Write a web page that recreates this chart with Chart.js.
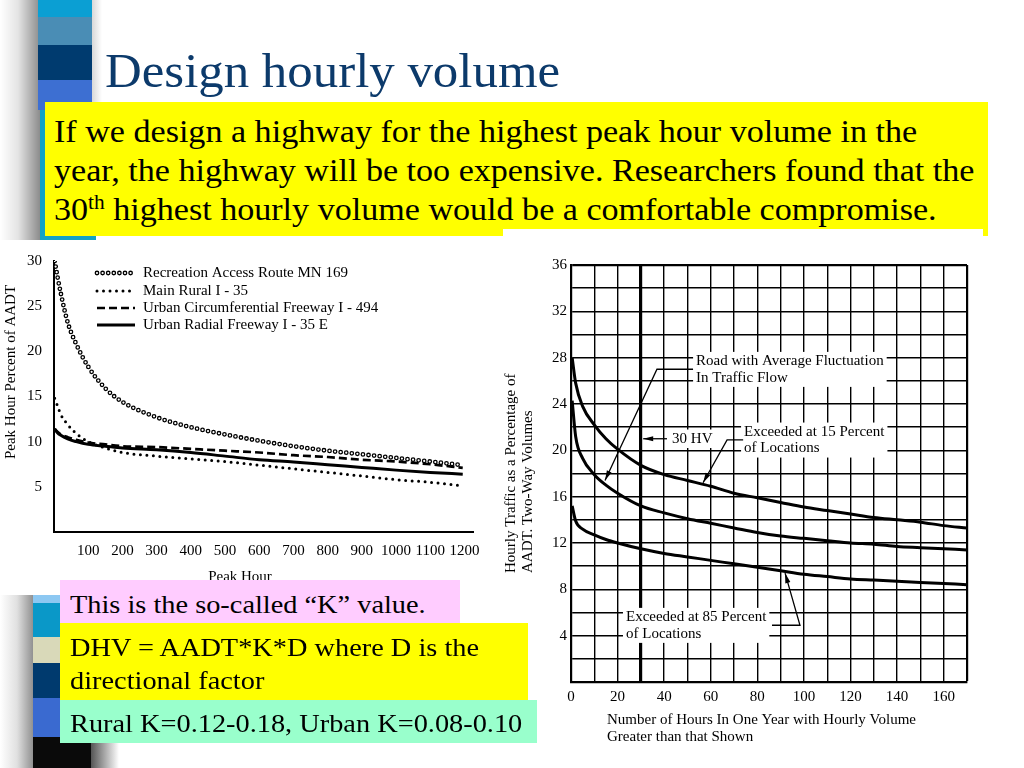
<!DOCTYPE html>
<html>
<head>
<meta charset="utf-8">
<script src="https://cdn.jsdelivr.net/npm/chart.js@4.4.1/dist/chart.umd.min.js"></script>
<style>
html,body{margin:0;padding:0;background:#fff;}
#slide{position:relative;width:1024px;height:768px;overflow:hidden;background:#fff;font-family:"Liberation Serif","Times New Roman",serif;color:#000;}
.abs{position:absolute;}
.band{position:absolute;}
#title{left:105px;top:46.8px;font-size:48px;line-height:48px;color:#0c3a6b;white-space:nowrap;transform:scaleX(1.06);transform-origin:0 0;}
#topbox{left:45px;top:102px;width:943px;height:134px;background:#ffff00;}
#topbox .t{position:absolute;left:9px;top:10.4px;font-size:32px;line-height:39px;white-space:nowrap;transform:scaleX(1.065);transform-origin:0 0;}
#topbox sup{font-size:20px;line-height:0;vertical-align:11px;}
#leftwrap{left:0;top:240px;width:490px;height:350px;background:#fff;}
#rightwrap{left:503px;top:229px;width:480px;height:521px;background:#fff;}
canvas{display:block;}
.note{position:absolute;left:60px;}
.note .t{position:absolute;left:10px;font-size:26px;white-space:nowrap;transform:scaleX(1.09);transform-origin:0 0;}
#pink{top:580px;width:400px;height:43px;background:#ffccff;}
#pink .t{top:9.5px;line-height:30px;}
#yel{top:623px;width:468px;height:77px;background:#ffff00;}
#yel .t{top:7.7px;line-height:33px;}
#teal{top:700px;width:477px;height:43px;background:#99ffcc;}
#teal .t{top:8.9px;line-height:30px;}
</style>
</head>
<body>
<div id="slide">
  <!-- decorative strip, top -->
  <div class="band" style="left:0;top:0;width:40px;height:240px;background:linear-gradient(to right,#ffffff 0%,#e4e4e4 45%,#8c8c8c 100%);"></div>
  <div class="band" style="left:38px;top:0;width:54px;height:17px;background:#0b9fd3;"></div>
  <div class="band" style="left:38px;top:17px;width:54px;height:28px;background:#4a8db5;"></div>
  <div class="band" style="left:38px;top:45px;width:54px;height:35px;background:#003b6f;"></div>
  <div class="band" style="left:38px;top:80px;width:54px;height:30px;background:#3d6fd2;"></div>
  <div class="band" style="left:40px;top:110px;width:56px;height:130px;background:#12a2c4;"></div>
  <div class="band" style="left:92px;top:0;width:10px;height:102px;background:linear-gradient(to right,#d8d8d8,#ffffff);"></div>
  <!-- decorative strip, bottom -->
  <div class="band" style="left:0;top:595px;width:34px;height:173px;background:linear-gradient(to right,#ffffff 0%,#e0e0e0 50%,#8c8c8c 100%);"></div>
  <div class="band" style="left:33px;top:595px;width:58px;height:8px;background:#8dc8f2;"></div>
  <div class="band" style="left:33px;top:603px;width:58px;height:34px;background:#0a98c8;"></div>
  <div class="band" style="left:33px;top:637px;width:58px;height:26px;background:#d9d9b9;"></div>
  <div class="band" style="left:33px;top:663px;width:58px;height:35px;background:#003a6e;"></div>
  <div class="band" style="left:33px;top:698px;width:58px;height:39px;background:#3a6ad0;"></div>
  <div class="band" style="left:33px;top:737px;width:58px;height:31px;background:#0a0a0a;"></div>
  <div class="band" style="left:91px;top:737px;width:28px;height:31px;background:linear-gradient(to right,#555555,#ffffff);"></div>

  <div class="abs" id="title">Design hourly volume</div>

  <div class="abs" id="topbox"><div class="t">If we design a highway for the highest peak hour volume in the<br>year, the highway will be too expensive. Researchers found that the<br>30<sup>th</sup> highest hourly volume would be a comfortable compromise.</div></div>

  <div class="abs" id="leftwrap"><canvas id="leftChart" width="490" height="350"></canvas></div>
  <div class="abs" id="rightwrap"><canvas id="rightChart" width="480" height="521"></canvas></div>

  <div class="note" id="pink"><div class="t">This is the so-called “K” value.</div></div>
  <div class="note" id="yel"><div class="t">DHV = AADT*K*D where D is the<br>directional factor</div></div>
  <div class="note" id="teal"><div class="t">Rural K=0.12-0.18, Urban K=0.08-0.10</div></div>
</div>

<script>
// ---------- Left chart data (Peak Hour Percent of AADT) ----------
const leftHours        = [2, 10, 20, 40, 65, 100, 150, 200, 300, 400, 500, 600, 700, 800, 900, 1000, 1100, 1195];
const recreationMN169  = [30, 28.3, 26.4, 23.2, 20.8, 18.3, 15.9, 14.4, 12.7, 11.6, 10.8, 10.1, 9.5, 9.0, 8.6, 8.2, 7.8, 7.4];
const mainRuralI35     = [14.8, 14.0, 13.0, 11.9, 10.9, 10.0, 9.3, 8.8, 8.4, 8.1, 7.8, 7.4, 7.0, 6.6, 6.2, 5.8, 5.5, 5.1];
const urbanCircI494    = [11.4, 11.1, 10.8, 10.5, 10.2, 9.9, 9.7, 9.5, 9.4, 9.2, 9.0, 8.8, 8.5, 8.3, 8.0, 7.8, 7.5, 7.1];
const urbanRadialI35E  = [11.4, 11.0, 10.7, 10.3, 10.0, 9.7, 9.5, 9.3, 9.1, 8.8, 8.4, 8.0, 7.75, 7.45, 7.15, 6.85, 6.6, 6.4];
const leftSeriesLabels = ['Recreation Access Route MN 169', 'Main Rural I - 35', 'Urban Circumferential Freeway I - 494', 'Urban Radial Freeway I - 35 E'];
const leftXTickLabels  = [100, 200, 300, 400, 500, 600, 700, 800, 900, 1000, 1100, 1200];
const leftYTickLabels  = [5, 10, 15, 20, 25, 30];
const leftXTitle = 'Peak Hour';
const leftYTitle = 'Peak Hour Percent of AADT';

// ---------- Right chart data (Hourly traffic as % of AADT) ----------
const rightHours    = [0.5, 2, 5, 10, 15, 20, 30, 40, 50, 60, 70, 80, 90, 100, 110, 120, 130, 140, 150, 160, 170];
const exceeded15Pct = [28, 25.8, 23.8, 22.2, 21.0, 20.1, 18.7, 17.9, 17.4, 16.9, 16.3, 15.9, 15.5, 15.1, 14.8, 14.5, 14.2, 14.0, 13.8, 13.5, 13.3];
const averageRoad   = [24.3, 21.2, 19.3, 17.9, 17.0, 16.3, 15.2, 14.6, 14.1, 13.7, 13.3, 12.9, 12.6, 12.4, 12.2, 12.0, 11.9, 11.7, 11.6, 11.5, 11.4];
const exceeded85Pct = [15.2, 13.9, 13.2, 12.7, 12.3, 12.0, 11.5, 11.1, 10.8, 10.5, 10.2, 9.9, 9.6, 9.3, 9.1, 8.9, 8.8, 8.7, 8.6, 8.5, 8.4];
const rightXTickLabels = [0, 20, 40, 60, 80, 100, 120, 140, 160];
const rightYTickLabels = [4, 8, 12, 16, 20, 24, 28, 32, 36];
const rightXTitle = ['Number of Hours In One Year with Hourly Volume', 'Greater than that Shown'];
const rightYTitle = ['Hourly Traffic as a Percentage of', 'AADT. Two-Way Volumes'];
const rightNotes = [
  {lines: ['Road with Average Fluctuation', 'In Traffic Flow'], h: 53.7, v: 27.7},
  {lines: ['30 HV'], h: 43.4, v: 21.0},
  {lines: ['Exceeded at 15 Percent', 'of Locations'], h: 74.3, v: 21.6},
  {lines: ['Exceeded at 85 Percent', 'of Locations'], h: 23.6, v: 5.6}
];

const SERIF = '"Liberation Serif", "Times New Roman", serif';
Chart.defaults.font.family = SERIF;
Chart.defaults.color = '#000';

function pts(xs, ys) { return xs.map((x, i) => ({x: x, y: ys[i]})); }

const freeLabels = {
  id: 'freeLabels',
  afterDraw(chart, args, opts) {
    const ctx = chart.ctx;
    (opts.items || []).forEach(it => {
      ctx.save();
      ctx.font = it.font;
      ctx.fillStyle = '#000';
      ctx.textAlign = it.align || 'center';
      ctx.textBaseline = 'middle';
      ctx.translate(it.x, it.y);
      if (it.rotation) ctx.rotate(it.rotation * Math.PI / 180);
      const lines = Array.isArray(it.text) ? it.text : [it.text];
      lines.forEach((t, i) => ctx.fillText(t, 0, i * (it.lineHeight || 17)));
      ctx.restore();
    });
  }
};

const inPlotLegend = {
  id: 'inPlotLegend',
  afterDraw(chart, args, opts) {
    const ctx = chart.ctx;
    const rows = opts.rows;
    chart.data.datasets.forEach(ds => {
      const yy = rows[ds.legendRow];
      ctx.save();
      ctx.strokeStyle = ds.borderColor;
      ctx.lineWidth = ds.borderWidth;
      ctx.setLineDash(ds.borderDash || []);
      ctx.lineCap = ds.borderCapStyle || 'butt';
      ctx.beginPath();
      ctx.moveTo(opts.x0, yy);
      ctx.lineTo(opts.x1, yy);
      ctx.stroke();
      ctx.restore();
    });
    ctx.save();
    ctx.font = opts.font;
    ctx.fillStyle = '#000';
    ctx.textBaseline = 'middle';
    ctx.textAlign = 'left';
    chart.data.datasets.forEach(ds => {
      if (!ds.overlay) ctx.fillText(ds.label, opts.textX, rows[ds.legendRow]);
    });
    ctx.restore();
  }
};

const chartNotes = {
  id: 'chartNotes',
  afterDraw(chart, args, opts) {
    const ctx = chart.ctx, xs = chart.scales.x, ys = chart.scales.y;
    const lh = opts.lineHeight;
    ctx.save();
    ctx.font = opts.font;
    ctx.textBaseline = 'middle';
    ctx.textAlign = 'left';
    const notes = opts.notes;
    for (let k = 0; k < notes.length; k++) {
      const n = notes[k];
      const px = xs.getPixelForValue(n.h), py = ys.getPixelForValue(n.v);
      let w = 0;
      n.lines.forEach(s => { w = Math.max(w, ctx.measureText(s).width); });
      ctx.fillStyle = '#fff';
      ctx.fillRect(px - 3, py - lh / 2 - 1, w + 6, lh * n.lines.length + 2);
    }
    ctx.fillStyle = '#000';
    for (let k = 0; k < notes.length; k++) {
      const n = notes[k];
      const px = xs.getPixelForValue(n.h), py = ys.getPixelForValue(n.v);
      n.lines.forEach((s, i) => ctx.fillText(s, px, py + i * lh));
    }
    ctx.strokeStyle = '#000';
    ctx.lineWidth = 1.3;
    const leaders = opts.leaders;
    for (let k = 0; k < leaders.length; k++) {
      const p = leaders[k].map(q => [xs.getPixelForValue(q[0]), ys.getPixelForValue(q[1])]);
      ctx.beginPath();
      ctx.moveTo(p[0][0], p[0][1]);
      for (let i = 1; i < p.length; i++) ctx.lineTo(p[i][0], p[i][1]);
      ctx.stroke();
      const a = p[p.length - 2], b = p[p.length - 1];
      const ang = Math.atan2(b[1] - a[1], b[0] - a[0]);
      const L = 10, W = 2.6;
      ctx.beginPath();
      ctx.moveTo(b[0], b[1]);
      ctx.lineTo(b[0] - L * Math.cos(ang) + W * Math.sin(ang), b[1] - L * Math.sin(ang) - W * Math.cos(ang));
      ctx.lineTo(b[0] - L * Math.cos(ang) - W * Math.sin(ang), b[1] - L * Math.sin(ang) + W * Math.cos(ang));
      ctx.closePath();
      ctx.fill();
    }
    ctx.restore();
  }
};

// ---------- Left chart ----------
new Chart(document.getElementById('leftChart'), {
  type: 'line',
  data: {
    datasets: [
      {label: leftSeriesLabels[0], data: pts(leftHours, recreationMN169), borderColor: '#000', borderWidth: 4.8, borderDash: [0, 5.6], borderCapStyle: 'round', legendRow: 0, order: 0},
      {label: leftSeriesLabels[0], data: pts(leftHours, recreationMN169), borderColor: '#fff', borderWidth: 2.2, borderDash: [0, 5.6], borderCapStyle: 'round', legendRow: 0, overlay: true, order: -1},
      {label: leftSeriesLabels[1], data: pts(leftHours, mainRuralI35), borderColor: '#000', borderWidth: 3, borderDash: [0, 6.5], borderCapStyle: 'round', legendRow: 1, order: 1},
      {label: leftSeriesLabels[2], data: pts(leftHours, urbanCircI494), borderColor: '#000', borderWidth: 2.7, borderDash: [8, 4], legendRow: 2, order: 1},
      {label: leftSeriesLabels[3], data: pts(leftHours, urbanRadialI35E), borderColor: '#000', borderWidth: 3, legendRow: 3, order: 1}
    ]
  },
  options: {
    responsive: false,
    animation: false,
    layout: {padding: {left: 0, right: 17, top: 16, bottom: 0}},
    elements: {point: {radius: 0}, line: {cubicInterpolationMode: 'monotone', fill: false}},
    plugins: {
      legend: {display: false},
      tooltip: {enabled: false},
      inPlotLegend: {x0: 97, x1: 135, textX: 143, rows: [33, 51, 68, 85], font: '15px ' + SERIF},
      freeLabels: {items: [
        {text: leftXTitle, x: 240, y: 337, font: '15px ' + SERIF},
        {text: leftYTitle, x: 11, y: 132, rotation: -90, font: '15px ' + SERIF}
      ]}
    },
    scales: {
      x: {
        type: 'linear', min: 0, max: 1225,
        afterFit: s => { s.height = 58; },
        grid: {display: false, drawTicks: false},
        border: {display: true, color: '#000', width: 2},
        ticks: {stepSize: 100, includeBounds: false, autoSkip: false, maxRotation: 0, padding: 10, font: {size: 15},
          callback: v => leftXTickLabels.includes(v) ? String(v) : ''}
      },
      y: {
        type: 'linear', min: 0, max: 30,
        afterFit: s => { s.width = 54; },
        grid: {display: false, drawTicks: false},
        border: {display: true, color: '#000', width: 2},
        ticks: {stepSize: 5, autoSkip: false, padding: 12, font: {size: 15},
          callback: v => leftYTickLabels.includes(v) ? String(v) : ''}
      }
    }
  },
  plugins: [inPlotLegend, freeLabels]
});

// ---------- Right chart ----------
new Chart(document.getElementById('rightChart'), {
  type: 'line',
  data: {
    datasets: [
      {label: 'Exceeded at 15 Percent of Locations', data: pts(rightHours, exceeded15Pct), borderColor: '#000', borderWidth: 3},
      {label: 'Road with Average Fluctuation In Traffic Flow', data: pts(rightHours, averageRoad), borderColor: '#000', borderWidth: 3},
      {label: 'Exceeded at 85 Percent of Locations', data: pts(rightHours, exceeded85Pct), borderColor: '#000', borderWidth: 3}
    ]
  },
  options: {
    responsive: false,
    animation: false,
    layout: {padding: {left: 0, right: 16, top: 36, bottom: 0}},
    elements: {point: {radius: 0}, line: {cubicInterpolationMode: 'monotone', fill: false}},
    plugins: {
      legend: {display: false},
      tooltip: {enabled: false},
      chartNotes: {
        font: '15px ' + SERIF, lineHeight: 16.5,
        notes: rightNotes,
        leaders: [
          [[52.4, 27.0], [36.9, 27.0], [14.6, 17.4]],
          [[41.2, 21.0], [31.0, 21.0]],
          [[73.9, 20.9], [67.0, 20.9], [56.7, 17.2]],
          [[86.3, 4.9], [98.3, 4.9], [91.9, 9.4]]
        ]
      },
      freeLabels: {items: [
        {text: rightXTitle, x: 104, y: 491, align: 'left', lineHeight: 17, font: '15px ' + SERIF},
        {text: rightYTitle, x: 8, y: 344, rotation: -90, align: 'left', lineHeight: 17, font: '15px ' + SERIF}
      ]}
    },
    scales: {
      x: {
        type: 'linear', min: 0, max: 170,
        afterFit: s => { s.height = 68; },
        grid: {display: true, drawTicks: false, color: '#000',
          lineWidth: c => (c.tick && c.tick.value === 30) ? 3.2 : ((c.tick && c.tick.value === 170) ? 2.2 : 1.4)},
        border: {display: true, color: '#000', width: 2.2},
        ticks: {stepSize: 10, autoSkip: false, maxRotation: 0, padding: 6, font: {size: 15},
          callback: v => rightXTickLabels.includes(v) ? String(v) : ''}
      },
      y: {
        type: 'linear', min: 0, max: 36,
        afterFit: s => { s.width = 68; },
        grid: {display: true, drawTicks: false, color: '#000',
          lineWidth: c => (c.tick && c.tick.value === 36) ? 2.2 : 1.4},
        border: {display: true, color: '#000', width: 2.2},
        ticks: {stepSize: 2, autoSkip: false, padding: 4, font: {size: 15},
          callback: v => rightYTickLabels.includes(v) ? String(v) : ''}
      }
    }
  },
  plugins: [chartNotes, freeLabels]
});
</script>
</body>
</html>
